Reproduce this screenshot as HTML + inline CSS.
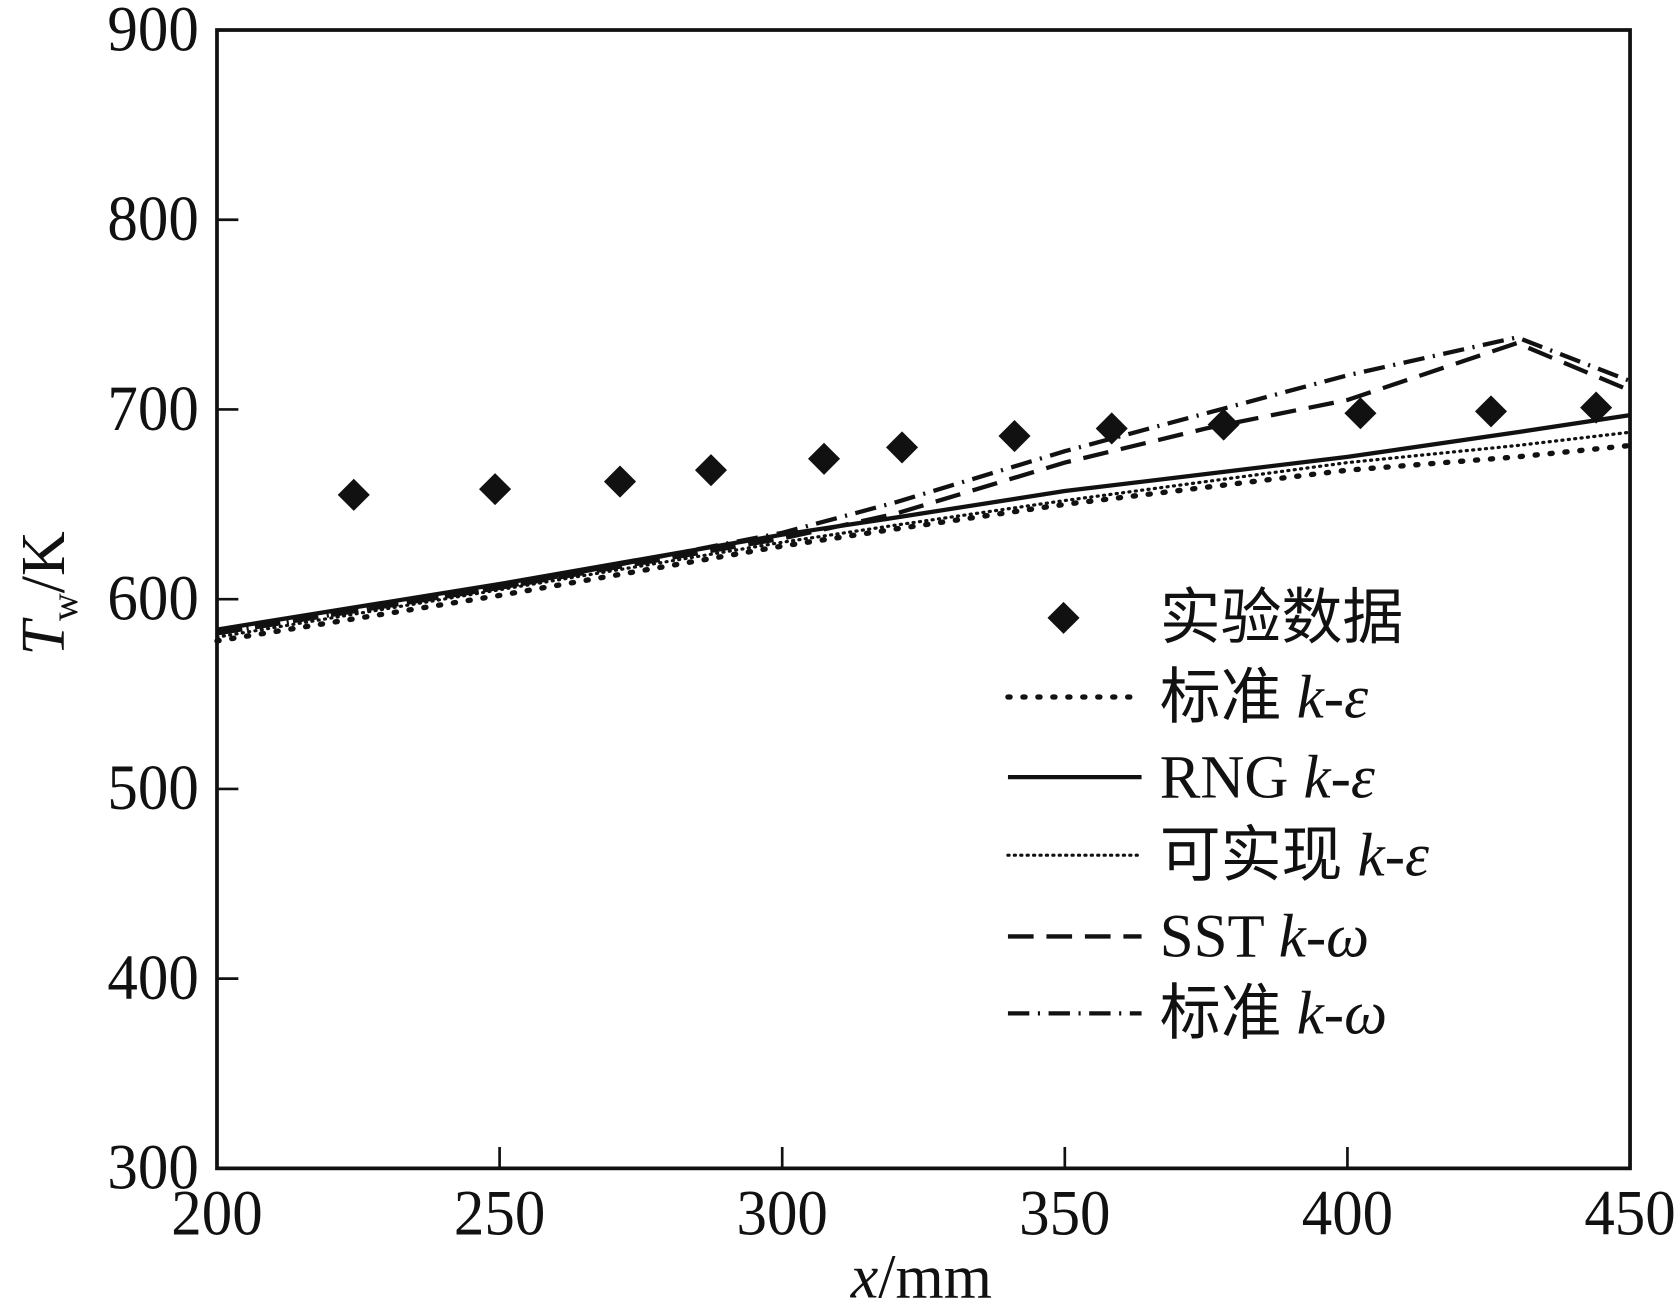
<!DOCTYPE html>
<html><head><meta charset="utf-8"><style>
html,body{margin:0;padding:0;background:#fff;}
svg{display:block;}
text{font-family:"Liberation Serif","Noto Serif CJK SC",serif;fill:#111;}
.cjk{font-family:"Liberation Serif","Noto Sans CJK SC",sans-serif;}
</style></head><body>
<svg id="chart" width="1676" height="1301" viewBox="0 0 1568 1217" xmlns="http://www.w3.org/2000/svg">
<g id="axes"></g>
<g id="series"></g>
<g id="legend"></g>
</svg>
<script>
const xTicks=[200,250,300,350,400,450];
const yTicks=[300,400,500,600,700,800,900];
const expX=[224.2,249.2,271.3,287.4,307.4,321.2,341.1,358.3,378.1,402.3,425.4,444];
const expY=[655,658,662,668,674,680,686,690,692,698,699,701];
const lineX=[200,250,300,320,350,375,400,430,450];
const stdKe=[578,602,628,637,650,659,668,675,681];
const rngKe=[584,608,634,643,657,666,675,688,697];
const realKe=[580,605,630,639,652,662,672,681,688];
const sstKw=[582,606,632,645,672,690,705,735,710];
const stdKw=[582,606,635,651,678,698,718,738,715];

const NS="http://www.w3.org/2000/svg";
const X0=203,X1=1525,Y0=1093,Y1=28;
const sx=v=>X0+(v-200)/250*(X1-X0);
const sy=v=>Y0-(v-300)/600*(Y0-Y1);
function mk(tag,attrs,parent,txt){const e=document.createElementNS(NS,tag);for(const k in attrs)e.setAttribute(k,attrs[k]);if(txt!==undefined)e.textContent=txt;parent.appendChild(e);return e;}
const axes=document.getElementById('axes'),series=document.getElementById('series'),legend=document.getElementById('legend');

let fr=mk('rect',{x:X0,y:Y1,width:X1-X0,height:Y0-Y1,fill:'none',stroke:'#111','stroke-width':3.5},axes);


xTicks.forEach(v=>{
  const t=mk('line',{x1:sx(v),x2:sx(v),y1:Y0,y2:Y0-20,stroke:'#111','stroke-width':2.5},axes);
  
  
  const l=mk('text',{x:sx(v),y:Y0+62,'text-anchor':'middle','font-size':60,transform:`translate(${sx(v)},0) scale(0.95,1) translate(${-sx(v)},0)`},axes,String(v));
  
  
});
yTicks.forEach(v=>{
  const t=mk('line',{x1:X0,x2:X0+20,y1:sy(v),y2:sy(v),stroke:'#111','stroke-width':2.5},axes);
  
  
  const l=mk('text',{x:186,y:sy(v)+19,'text-anchor':'end','font-size':60,transform:`translate(186,0) scale(0.95,1) translate(-186,0)`},axes,String(v));
  
  
});
const xt=mk('text',{x:862,y:1214,'text-anchor':'middle','font-size':58},axes);


xt.innerHTML='<tspan font-style="italic">x</tspan>/mm';
const yt=mk('text',{x:0,y:0,'text-anchor':'middle','font-size':58,transform:'translate(60,555) rotate(-90)'},axes);


yt.innerHTML='<tspan font-style="italic">T</tspan><tspan font-size="36" dy="12">w</tspan><tspan dy="-12">/K</tspan>';

const styles={
 stdKe:{d:'2 12',w:5,cap:'round'},
 rngKe:{d:'',w:4,cap:'butt'},
 realKe:{d:'1 5',w:3,cap:'round'},
 sstKw:{d:'24 12',w:4,cap:'butt'},
 stdKw:{d:'20 8 2 8',w:4,cap:'butt'}
};
const seriesData={stdKe,rngKe,realKe,sstKw,stdKw};
const seriesNames={stdKe:'standard-k-epsilon-line',rngKe:'rng-k-epsilon-line',realKe:'realizable-k-epsilon-line',sstKw:'sst-k-omega-line',stdKw:'standard-k-omega-line'};
for(const k in seriesData){
  const pts=lineX.map((x,i)=>sx(x)+','+sy(seriesData[k][i])).join(' ');
  const s=styles[k];
  const p=mk('polyline',{points:pts,fill:'none',stroke:'#111','stroke-width':s.w,'stroke-dasharray':s.d,'stroke-linecap':s.cap},series);
  
  
}
expX.forEach((x,i)=>{
  const cx=sx(x),cy=sy(expY[i]),r=15;
  const m=mk('polygon',{points:`${cx},${cy-r} ${cx+r},${cy} ${cx},${cy+r} ${cx-r},${cy}`,fill:'#111'},series);
  
  
});

const legRows=[
 {y:578,label:'实验数据',it:'',key:null},
 {y:652,label:'标准 ',it:'k-ε',key:'stdKe'},
 {y:727,label:'RNG ',it:'k-ε',key:'rngKe'},
 {y:800,label:'可实现 ',it:'k-ε',key:'realKe'},
 {y:876,label:'SST ',it:'k-ω',key:'sstKw'},
 {y:948,label:'标准 ',it:'k-ω',key:'stdKw'}
];
legRows.forEach(r=>{
  if(r.key===null){
    const m=mk('polygon',{points:`995,${r.y-15} 1010,${r.y} 995,${r.y+15} 980,${r.y}`,fill:'#111'},legend);
    
    
  }else{
    const s=styles[r.key];
    const l=mk('line',{x1:943,x2:1068,y1:r.y,y2:r.y,stroke:'#111','stroke-width':s.w,'stroke-dasharray':s.d,'stroke-linecap':s.cap},legend);
    
    
  }
  const t=mk('text',{x:1085,y:r.y+19,'font-size':57,class:'cjk'},legend);
  
  
  t.innerHTML=r.label+(r.it?'<tspan font-style="italic">'+r.it+'</tspan>':'');
});
</script>
</body></html>
